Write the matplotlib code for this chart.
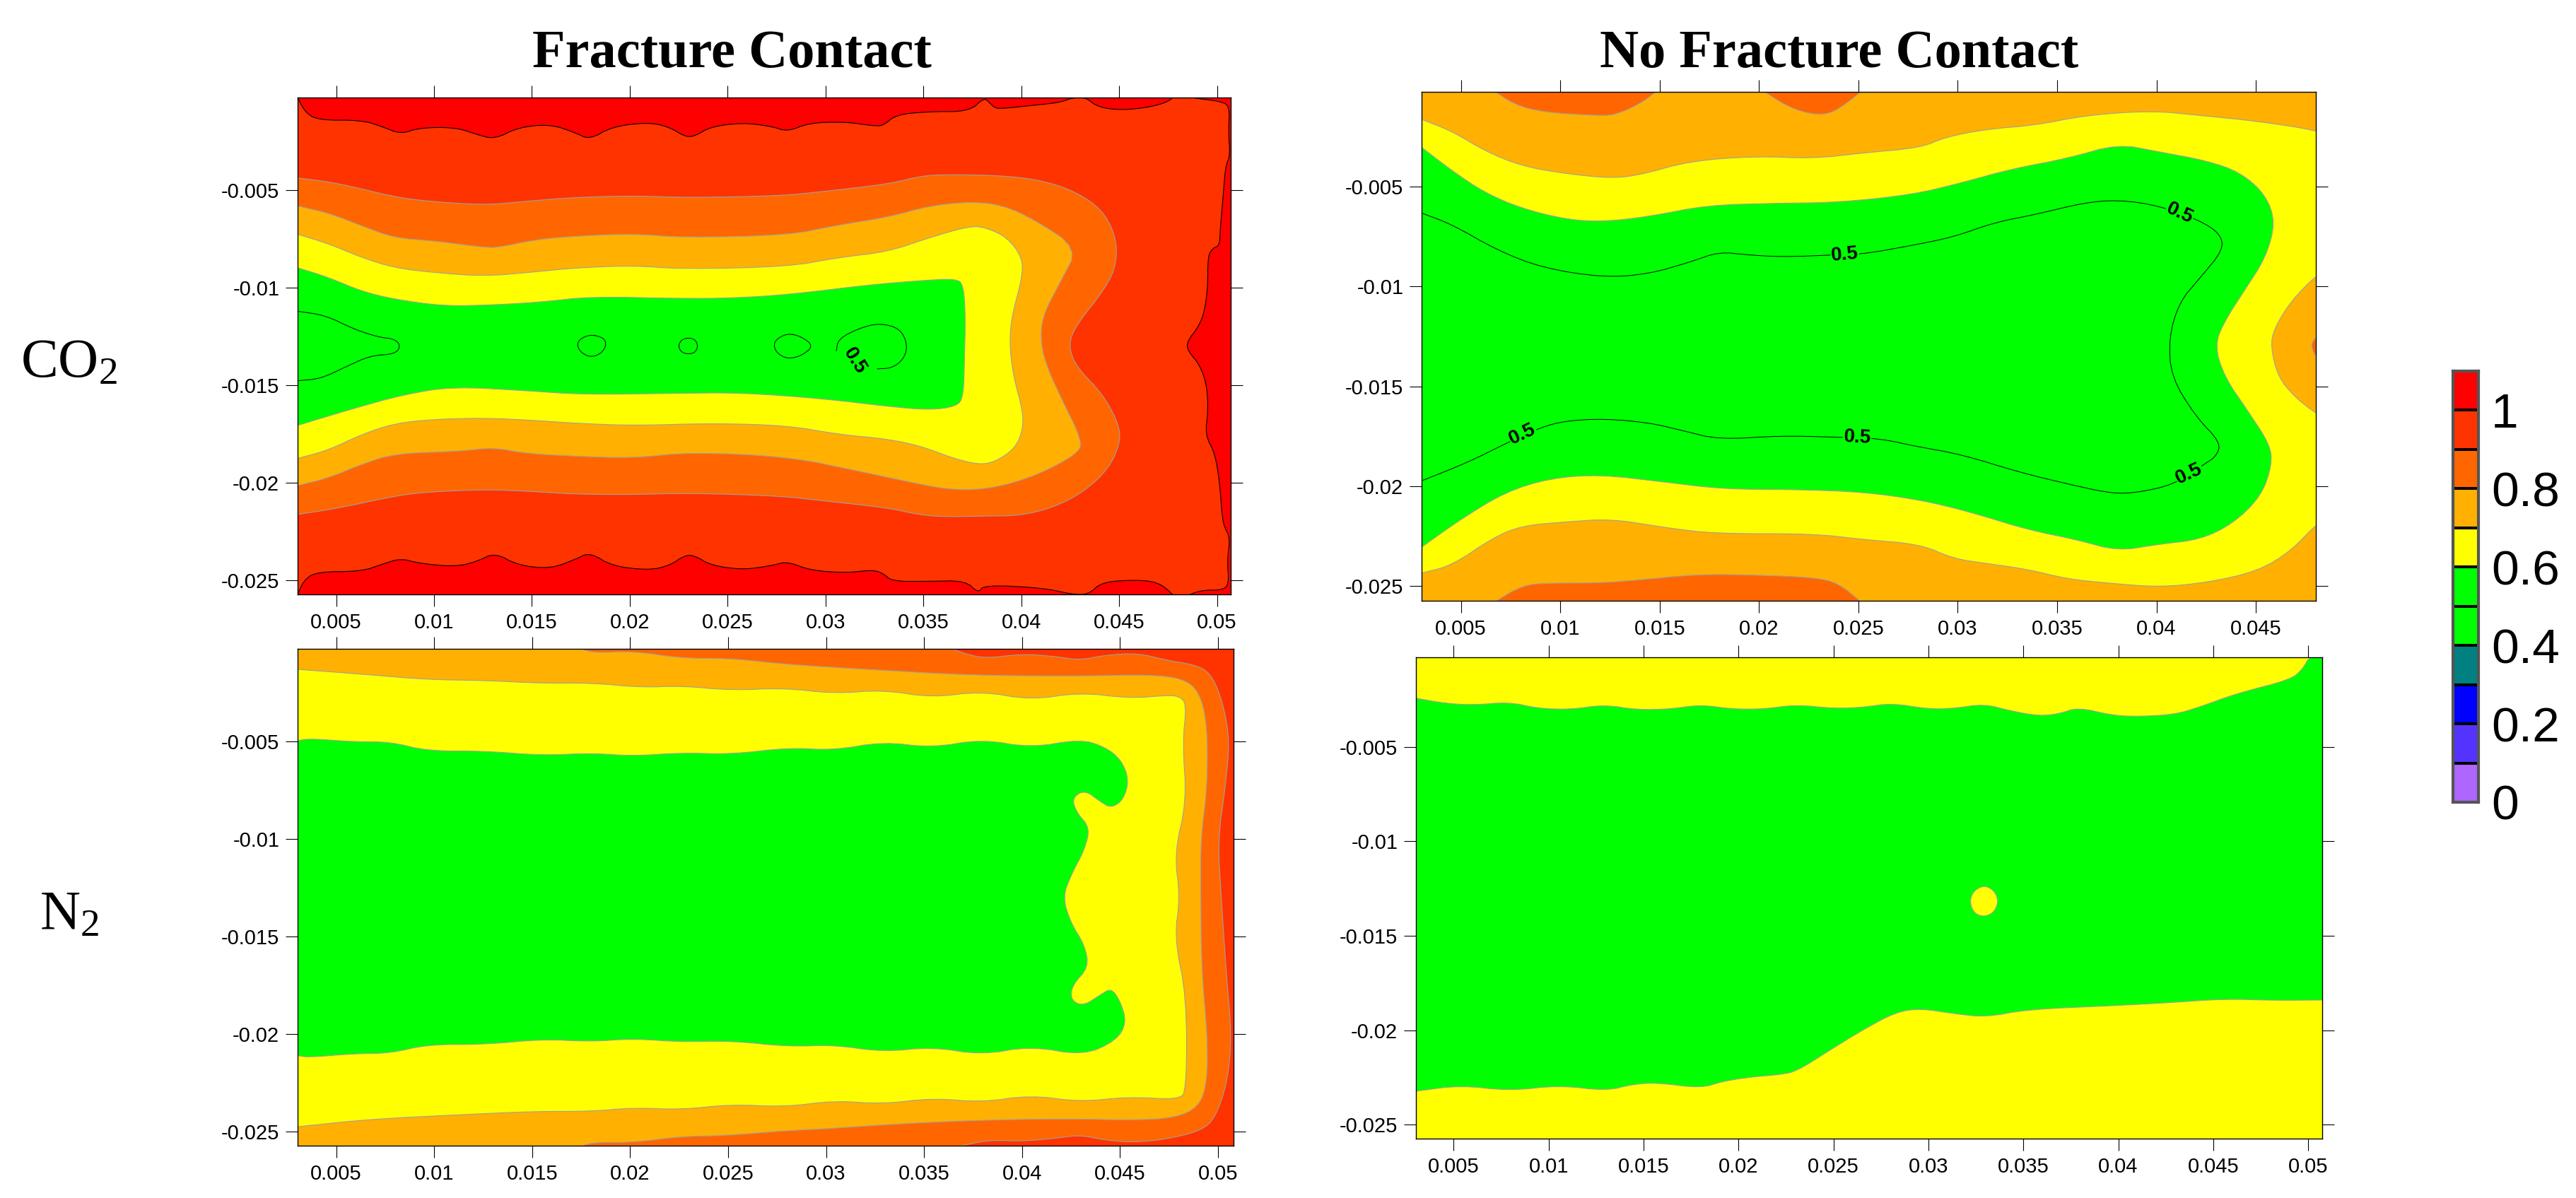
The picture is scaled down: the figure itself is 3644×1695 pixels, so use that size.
import matplotlib
matplotlib.use('Agg')
import matplotlib.pyplot as plt
from matplotlib.colors import ListedColormap
import numpy as np

plt.rcParams['font.family'] = ['Liberation Sans', 'DejaVu Sans']
plt.rcParams['mathtext.fontset'] = 'custom'
plt.rcParams['mathtext.rm'] = 'Liberation Serif'
plt.rcParams['mathtext.default'] = 'rm'

W, H = 3644, 1695

# legend
cb_levels = [0, .1, .2, .3, .4, .5, .6, .7, .8, .9, 1.0, 1.1]
cb_colors = ['#AE66FF', '#5533FF', '#0000FF', '#008080', '#00FF00', '#00FF00',
             '#FFFF00', '#FFB000', '#FF6600', '#FF3300', '#FF0000']
cb_ticks = [0, .2, .4, .6, .8, 1.0]
cb_ticklabels = ['0', '0.2', '0.4', '0.6', '0.8', '1']

x_ticks = [5, 10, 15, 20, 25, 30, 35, 40, 45, 50]
x_ticklabels = ['0.005', '0.01', '0.015', '0.02', '0.025', '0.03', '0.035', '0.04', '0.045', '0.05']
y_ticks = [-5, -10, -15, -20, -25]
y_ticklabels = ['-0.005', '-0.01', '-0.015', '-0.02', '-0.025']

# all contour outlines below are (x, y) in mm
# Fracture Contact, CO2
a_red_top = [(3.0, -0.1), (3.03, -0.23), (3.36, -0.93), (4.0, -1.41), (6.3, -1.41), (7.35, -1.74), (8.3, -2.13), (9.25, -1.8),
             (11.1, -1.78), (12.2, -2.15), (13.1, -2.39), (14.3, -1.78), (15.95, -1.62), (17.2, -2.05), (17.95, -2.41),
             (19.1, -1.74), (21.0, -1.52), (22.05, -1.78), (22.8, -2.25), (23.3, -2.25), (24.15, -1.74), (25.8, -1.54),
             (27.3, -1.74), (28.05, -2.0), (29.2, -1.54), (31.05, -1.5), (32.4, -1.7), (32.95, -1.7), (33.6, -1.13),
             (35.25, -0.97), (37.35, -0.97), (38.1, -0.25), (38.4, -0.54), (38.64, -0.78), (39.0, -0.82), (40.8, -0.63),
             (42.0, -0.5), (42.6, -0.26), (43.33, -0.26), (43.8, -0.67), (44.55, -0.85), (45.5, -0.87), (46.6, -0.73),
             (47.4, -0.5), (47.75, -0.26), (47.75, -0.1)]
a_red_bottom = [(3.0, -25.9), (3.03, -25.74), (3.36, -25.0), (4.0, -24.58), (6.3, -24.56), (7.35, -24.19), (8.3, -23.89),
                (9.25, -24.15), (11.1, -24.32), (12.2, -24.05), (13.1, -23.6), (14.3, -24.25), (15.95, -24.42), (17.2, -23.95),
                (17.95, -23.58), (19.1, -24.29), (21.0, -24.5), (22.05, -24.25), (22.8, -23.74), (23.3, -23.74), (24.15, -24.25),
                (25.8, -24.48), (27.3, -24.25), (28.05, -24.05), (29.2, -24.5), (31.05, -24.64), (32.4, -24.48), (32.95, -24.66),
                (33.4, -25.07), (35.25, -25.07), (37.15, -25.03), (37.8, -25.68), (38.1, -25.25), (41.15, -25.41), (42.6, -25.74),
                (43.45, -25.74), (44.1, -25.11), (45.8, -24.99), (47.0, -25.11), (47.75, -25.74), (47.75, -25.9)]
a_red_right = [(48.63, -0.1), (48.63, -0.26), (50.25, -0.45), (50.65, -0.73), (50.58, -2.02), (50.67, -3.22), (50.43, -3.78),
               (50.31, -5.35), (50.16, -7.02), (50.13, -7.85), (49.77, -7.98), (49.53, -8.4), (49.53, -9.98), (49.35, -11.27),
               (49.05, -12.01), (48.48, -12.75), (48.48, -13.21), (49.11, -13.95), (49.47, -14.97), (49.55, -16.27),
               (49.39, -17.56), (49.89, -18.49), (50.13, -19.97), (50.25, -21.63), (50.37, -22.28), (50.67, -22.84),
               (50.52, -23.95), (50.61, -25.24), (50.25, -25.52), (49.29, -25.52), (48.57, -25.74), (48.57, -25.9),
               (52, -25.9), (52, -0.1)]
a_09 = [(3.0, -4.37), (5.04, -4.63), (7.98, -5.35), (9.66, -5.57), (12.6, -5.77), (14.7, -5.57), (17.2, -5.37), (20.2, -5.29),
        (23.1, -5.39), (27.7, -5.29), (29.8, -5.08), (33.2, -4.69), (34.8, -4.29), (36.1, -4.19), (39.5, -4.27), (41.6, -4.63),
        (43.2, -5.31), (44.3, -6.22), (44.9, -7.65), (44.8, -9.07), (44.1, -10.3), (42.8, -11.93), (42.4, -12.94), (42.8, -14.06),
        (44.1, -15.39), (44.9, -16.81), (45.1, -17.83), (44.5, -19.26), (43.2, -20.48), (41.6, -21.3), (39.9, -21.7),
        (38.2, -21.72), (36.1, -21.76), (34.8, -21.66), (33.2, -21.3), (29.8, -20.93), (27.7, -20.69), (23.1, -20.54),
        (20.2, -20.62), (17.2, -20.6), (14.7, -20.44), (12.6, -20.36), (9.7, -20.48), (8.0, -20.69), (5.0, -21.34), (3.0, -21.64)]
a_08 = [(3.0, -5.81), (4.62, -6.18), (6.3, -6.83), (7.98, -7.46), (10.08, -7.61), (12.6, -7.95), (13.35, -7.93), (15.12, -7.55),
        (17.2, -7.36), (20.2, -7.24), (22.7, -7.44), (28.1, -7.32), (30.65, -6.79), (33.2, -6.39), (35.3, -5.81), (37.4, -5.59),
        (39.05, -5.77), (40.7, -6.53), (42.9, -7.99), (42.0, -9.69), (41.05, -11.52), (41.0, -12.94), (41.35, -14.17), (42.0, -15.59),
        (43.15, -17.94), (42.8, -18.55), (41.15, -19.46), (39.45, -20.07), (37.8, -20.38), (36.1, -20.34), (34.0, -19.91),
        (31.9, -19.46), (28.1, -18.67), (23.1, -18.44), (20.15, -18.75), (17.2, -18.65), (14.7, -18.51), (13.0, -18.2),
        (11.3, -18.4), (8.0, -18.51), (6.3, -19.06), (4.6, -19.77), (3.0, -20.16)]
a_07 = [(3.0, -7.26), (4.62, -7.75), (6.3, -8.46), (7.98, -8.99), (10.08, -9.24), (12.6, -9.42), (15.1, -9.2), (17.2, -8.99),
        (20.15, -8.87), (22.7, -9.05), (28.1, -8.93), (30.65, -8.46), (33.2, -8.16), (35.3, -7.44), (37.4, -6.83), (38.25, -6.94),
        (39.3, -7.44), (40.05, -8.46), (40.05, -9.48), (39.5, -11.52), (39.4, -12.94), (39.6, -14.57), (40.05, -16.2), (40.1, -17.22),
        (39.7, -18.24), (38.65, -18.95), (37.8, -19.08), (36.5, -18.75), (34.9, -18.14), (33.2, -17.77), (30.65, -17.53),
        (28.1, -17.08), (24.3, -16.96), (20.15, -17.08), (17.2, -16.96), (15.1, -16.81), (12.6, -16.69), (10.08, -16.75),
        (8.0, -16.96), (6.3, -17.53), (4.6, -18.34), (3.0, -18.77)]
a_06 = [(3.0, -8.97), (4.62, -9.48), (6.3, -10.19), (7.98, -10.6), (10.5, -10.95), (13.0, -10.89), (15.5, -10.74), (18.0, -10.46),
        (22.7, -10.56), (25.2, -10.54), (28.1, -10.36), (32.3, -9.85), (34.85, -9.64), (36.7, -9.54), (37.05, -9.89), (37.15, -11.52),
        (37.1, -13.56), (37.05, -15.59), (36.7, -16.1), (35.3, -16.28), (33.2, -16.1), (29.8, -15.69), (25.6, -15.39), (22.25, -15.43),
        (17.6, -15.49), (14.7, -15.29), (10.95, -15.08), (8.45, -15.49), (5.9, -16.2), (3.0, -17.08)]
a_05_left = [(3.0, -11.21), (4.45, -11.42), (5.9, -12.13), (7.15, -12.54), (8.0, -12.64), (8.3, -13.0), (8.0, -13.41),
             (6.75, -13.49), (5.5, -14.06), (4.2, -14.68), (3.0, -14.78)]
a_05_loop1 = [(17.95, -12.39), (18.7, -12.58), (18.8, -13.0), (18.5, -13.41), (17.95, -13.58), (17.4, -13.25), (17.3, -12.74)]
a_05_loop2 = [(22.7, -12.6), (23.3, -12.6), (23.5, -13.0), (23.3, -13.39), (22.7, -13.39), (22.45, -13.0)]
a_05_loop3 = [(28.05, -12.35), (28.75, -12.5), (29.4, -13.0), (28.75, -13.51), (28.05, -13.66), (27.5, -13.35), (27.35, -12.94),
              (27.5, -12.64)]
a_05_arc = [(30.55, -13.25), (30.65, -12.64), (31.7, -12.09), (32.75, -11.82), (33.8, -12.09), (34.2, -12.94), (34.0, -13.66),
            (33.4, -14.13), (32.65, -14.17)]
a_labels = [(31.5, -13.75, -58)]

# No Fracture Contact, CO2
b_08_top1 = [(6.53, -0.1), (7.65, -0.87), (9.1, -1.27), (12.0, -1.45), (12.8, -1.39), (14.05, -0.83), (15.0, -0.1)]
b_08_top2 = [(20.05, -0.1), (21.5, -1.03), (22.75, -1.39), (23.6, -1.33), (24.4, -0.83), (25.3, -0.1)]
b_08_bottom = [(6.53, -25.9), (8.1, -24.95), (9.5, -24.85), (12.0, -24.85), (14.05, -24.69), (16.95, -24.41), (19.85, -24.45),
               (22.75, -24.57), (24.0, -24.85), (25.25, -25.9)]
b_08_right = [(48.1, -12.45), (47.73, -12.94), (48.1, -13.64)]
b_07 = [(3.0, -1.62), (4.55, -2.22), (6.2, -3.21), (8.06, -3.97), (10.34, -4.36), (12.61, -4.58), (14.06, -4.4), (16.54, -3.71),
        (19.85, -3.47), (22.75, -3.59), (25.23, -3.31), (28.13, -3.05), (29.37, -2.52), (31.44, -2.12), (33.92, -1.92), (36.4, -1.43),
        (39.71, -1.19), (42.19, -1.43), (45.09, -1.72), (48.1, -2.18), (49, -2.6), (49, -9.0), (48.1, -9.37), (46.74, -10.76), (45.9, -12.15), (45.75, -13.04),
        (46.12, -14.53), (46.95, -15.53), (48.1, -16.42), (49, -16.8), (49, -21.4), (48.1, -21.84), (46.74, -23.27), (45.09, -24.26), (42.6, -24.82),
        (40.12, -25.06), (37.64, -24.86), (35.57, -24.66), (33.5, -24.16), (31.44, -23.87), (29.78, -23.63), (28.13, -22.91),
        (25.23, -22.67), (22.75, -22.38), (17.78, -22.38), (15.3, -22.08), (12.61, -21.64), (10.34, -21.78), (8.06, -21.98),
        (6.61, -22.58), (4.55, -23.97), (3.0, -24.36)]
b_06 = [(3.0, -3.01), (4.55, -4.2), (6.2, -5.3), (8.06, -6.09), (10.34, -6.65), (12.2, -6.75), (14.48, -6.49), (17.37, -5.93),
        (20.67, -5.83), (23.98, -5.79), (27.7, -5.4), (30.2, -4.8), (32.7, -4.11), (35.57, -3.57), (38.05, -2.86), (40.12, -3.25),
        (42.6, -3.71), (44.25, -4.3), (45.49, -5.4), (45.99, -6.79), (45.49, -8.57), (44.45, -10.16), (43.42, -11.75), (42.93, -12.94),
        (43.42, -14.53), (44.66, -16.32), (45.7, -17.91), (45.82, -18.9), (45.28, -20.49), (43.85, -21.88), (42.19, -22.68),
        (40.12, -22.91), (38.05, -23.25), (35.98, -22.68), (33.5, -22.18), (30.61, -21.29), (28.13, -20.69), (25.23, -20.29),
        (21.92, -20.17), (18.2, -20.15), (15.3, -19.8), (12.0, -19.42), (9.5, -19.6), (7.24, -20.29), (4.96, -21.68), (3.0, -23.07)]
b_05 = [(3.0, -6.31), (4.55, -6.89), (6.82, -8.18), (9.1, -9.07), (12.2, -9.55), (14.47, -9.37), (16.54, -8.77), (17.99, -8.26),
        (19.44, -8.42), (21.3, -8.52), (23.58, -8.42), (25.23, -8.38), (27.71, -7.94), (29.78, -7.52), (31.85, -6.79), (33.92, -6.39),
        (36.4, -5.79), (38.14, -5.66), (40.12, -5.95), (42.19, -6.69), (43.23, -7.38), (43.35, -8.18), (42.19, -9.57), (41.16, -10.76),
        (40.62, -12.55), (40.74, -14.53), (41.98, -16.52), (43.23, -17.81), (43.02, -18.5), (42.4, -18.9), (40.87, -19.93),
        (38.88, -20.35), (37.64, -20.35), (35.57, -19.9), (33.09, -19.3), (30.19, -18.41), (27.92, -18.01), (26.06, -17.61),
        (24.07, -17.55), (21.09, -17.47), (17.99, -17.67), (16.13, -17.21), (14.47, -16.82), (12.2, -16.62), (10.34, -16.72),
        (9.1, -17.02), (7.36, -17.81), (5.37, -18.8), (3.0, -19.74)]
b_labels = [(24.32, -8.42, 5), (41.16, -6.35, -25), (41.65, -19.4, 25), (24.94, -17.57, -3), (8.1, -17.4, 25)]

# Fracture Contact, N2
c_09 = [(3.0, -0.1), (35.0, -0.1), (36.05, -0.1), (37.1, -0.51), (38.15, -0.74), (40.03, -0.51), (41.7, -0.64), (42.96, -0.83), (44.2, -0.58),
        (45.9, -0.47), (47.36, -0.83), (49.04, -1.11), (49.75, -1.68), (50.3, -3.19), (50.6, -5.0), (50.38, -7.34), (50.0, -10.02),
        (50.17, -13.0), (50.42, -16.77), (50.7, -20.04), (50.5, -22.43), (49.87, -24.32), (49.12, -24.98), (47.36, -25.41),
        (45.68, -25.57), (44.2, -25.45), (42.96, -25.19), (41.7, -25.36), (40.03, -25.51), (38.35, -25.45), (37.1, -25.7),
        (36.26, -25.9), (35.0, -25.9), (3.0, -25.9)]
c_08 = [(2.0, -0.1), (2.9, -0.1), (16.0, -0.1), (17.2, -0.1), (18.04, -0.47), (20.13, -0.36), (22.64, -0.74), (25.15, -0.74), (28.09, -1.06), (32.7, -1.34),
        (36.89, -1.58), (40.24, -1.64), (43.59, -1.64), (46.52, -1.58), (48.2, -1.77), (49.04, -2.43), (49.46, -4.13), (49.46, -7.34),
        (49.12, -10.02), (49.12, -13.0), (49.17, -16.77), (49.46, -20.04), (49.46, -22.43), (49.04, -23.75), (47.78, -24.32),
        (45.68, -24.43), (42.33, -24.36), (38.15, -24.42), (33.96, -24.6), (29.76, -24.89), (28.09, -24.96), (24.74, -25.23),
        (22.64, -25.26), (20.13, -25.58), (18.04, -25.56), (17.2, -25.9), (16.0, -25.9), (2.9, -25.9), (2.0, -25.9)]
c_07 = [(3.0, -1.3), (6.3, -1.55), (9.66, -1.83), (12.6, -1.87), (15.5, -2.02), (18.04, -2.0), (20.55, -2.23), (22.64, -2.15),
        (25.15, -2.38), (27.9, -2.26), (30.4, -2.55), (32.9, -2.36), (35.4, -2.75), (37.9, -2.43), (40.45, -2.87), (42.96, -2.49),
        (45.5, -2.79), (47.36, -2.64), (48.03, -2.68), (48.4, -3.09), (48.2, -5.08), (48.4, -8.09), (47.78, -10.74), (48.07, -13.0),
        (47.78, -15.08), (48.4, -18.09), (48.4, -22.9), (47.99, -23.38), (45.47, -23.23), (42.96, -23.49), (40.45, -23.15),
        (37.94, -23.51), (35.43, -23.3), (32.9, -23.6), (30.4, -23.43), (27.9, -23.75), (25.15, -23.62), (22.64, -23.89),
        (20.13, -23.79), (18.04, -23.98), (15.1, -23.98), (11.33, -24.15), (6.72, -24.38), (3.0, -24.77)]
c_06 = [(3.0, -4.98), (3.58, -4.85), (5.88, -5.02), (7.77, -5.02), (9.65, -5.49), (12.58, -5.49), (15.5, -5.72), (18.03, -5.6),
        (20.13, -5.75), (22.64, -5.58), (25.15, -5.66), (28.09, -5.32), (30.4, -5.45), (32.9, -5.02), (35.4, -5.32), (37.94, -4.89),
        (40.45, -5.32), (42.96, -4.89), (44.2, -5.26), (45.05, -5.92), (45.47, -6.96), (45.18, -8.0), (44.55, -8.42), (44.0, -8.09),
        (43.2, -7.49), (42.55, -7.91), (42.8, -8.66), (43.47, -9.42), (43.2, -10.55), (42.5, -11.87), (42.08, -13.0), (42.5, -14.32),
        (43.2, -15.45), (43.41, -16.58), (42.55, -17.53), (42.5, -18.28), (43.13, -18.57), (44.0, -18.0), (44.55, -17.66),
        (45.0, -18.28), (45.35, -19.42), (44.8, -20.36), (43.13, -21.11), (40.45, -20.64), (37.94, -21.08), (35.43, -20.68),
        (32.9, -20.93), (30.4, -20.57), (28.09, -20.66), (25.15, -20.36), (22.64, -20.42), (20.13, -20.25), (18.03, -20.4),
        (15.5, -20.28), (12.58, -20.55), (9.65, -20.55), (7.77, -21.0), (5.88, -21.02), (3.58, -21.21), (3.0, -21.11)]

# No Fracture Contact, N2
d_06 = [(3.0, -2.41), (4.48, -2.68), (6.0, -2.78), (7.94, -2.62), (9.46, -2.96), (11.19, -3.01), (12.92, -2.76), (14.65, -3.03),
        (16.38, -2.99), (18.02, -2.76), (19.63, -2.99), (21.36, -2.99), (23.0, -2.76), (25.03, -2.96), (26.55, -2.9), (28.06, -2.68),
        (30.01, -2.99), (31.31, -2.96), (32.95, -2.72), (34.34, -3.09), (35.85, -3.36), (36.93, -3.23), (37.88, -2.9), (39.75, -3.34),
        (41.26, -3.38), (42.99, -3.27), (44.29, -2.88), (46.24, -2.16), (49.05, -1.44), (49.7, -0.89), (50.13, -0.1), (52, -0.1),
        (52, -18.4), (50.74, -18.4), (48.18, -18.42), (45.59, -18.34), (42.56, -18.55), (39.53, -18.71), (35.2, -18.9), (33.04, -19.31),
        (31.31, -19.12), (29.58, -18.85), (28.28, -19.04), (26.55, -19.98), (24.82, -21.05), (23.09, -22.16), (22.22, -22.35),
        (20.71, -22.47), (19.19, -22.7), (18.02, -23.07), (15.73, -22.78), (14.43, -22.86), (13.05, -23.21), (10.54, -22.92),
        (7.94, -23.21), (5.35, -22.92), (3.0, -23.23)]
d_spot = [(32.95, -12.32), (33.47, -12.61), (33.69, -13.16), (33.47, -13.74), (32.95, -14.0), (32.39, -13.8), (32.17, -13.16), (32.39, -12.61)]

RED, ORANGERED, ORANGE, AMBER, YELLOW, GREEN = cb_colors[10], cb_colors[9], cb_colors[8], cb_colors[7], cb_colors[6], cb_colors[5]
GREY = '#A0A0A0'


def axes_at(fig, left, top, right, bottom):
    return fig.add_axes([left / W, 1 - bottom / H, (right - left) / W, (bottom - top) / H])


def chaikin(pts, closed=False, rounds=2):
    # corner cutting so the drawn outline is not a visible polyline
    p = np.array(pts, dtype=float) / 1000
    for _ in range(rounds):
        q = np.vstack([p, p[:1]]) if closed else p
        a, b = q[:-1], q[1:]
        cut = np.empty((2 * len(a), 2))
        cut[0::2] = 0.75 * a + 0.25 * b
        cut[1::2] = 0.25 * a + 0.75 * b
        p = cut if closed else np.vstack([q[:1], cut, q[-1:]])
    return p


def band(ax, pts, color, edge=GREY, closed=False):
    p = chaikin(pts, closed)
    ax.fill(p[:, 0], p[:, 1], facecolor=color, edgecolor=edge, linewidth=0.8)


def line(ax, pts, closed=False):
    p = chaikin(pts, closed)
    if closed:
        p = np.vstack([p, p[:1]])
    ax.plot(p[:, 0], p[:, 1], color='k', linewidth=0.7)


def label05(ax, labels):
    for x, y, rot in labels:
        ax.text(x / 1000, y / 1000, '0.5', fontsize=20, fontweight='bold', rotation=rot, ha='center', va='center',
                rotation_mode='anchor', bbox=dict(facecolor=GREEN, edgecolor='none', pad=0.5))


def style(ax, xlim, bg, xtick_vals=x_ticks, xtick_labs=x_ticklabels):
    ax.set_facecolor(bg)
    ax.set_xlim(xlim[0] / 1000, xlim[1] / 1000)
    ax.set_ylim(-25.74 / 1000, -0.25 / 1000)
    ax.set_xticks(np.array(xtick_vals) / 1000, xtick_labs)
    ax.set_yticks(np.array(y_ticks) / 1000, y_ticklabels)
    ax.tick_params(top=True, right=True, length=12.5, width=0.8, labelsize=21, pad=6)
    for s in ax.spines.values():
        s.set_linewidth(1.0)


fig = plt.figure(figsize=(W / 100, H / 100), dpi=100)

ax_a = axes_at(fig, 421, 138, 1741, 841)
style(ax_a, (3.03, 50.7), ORANGERED)
band(ax_a, a_red_top, RED, 'k')
band(ax_a, a_red_bottom, RED, 'k')
band(ax_a, a_red_right, RED, 'k')
band(ax_a, a_09, ORANGE)
band(ax_a, a_08, AMBER)
band(ax_a, a_07, YELLOW)
band(ax_a, a_06, GREEN)
line(ax_a, a_05_left)
line(ax_a, a_05_loop1, closed=True)
line(ax_a, a_05_loop2, closed=True)
line(ax_a, a_05_loop3, closed=True)
line(ax_a, a_05_arc)
label05(ax_a, a_labels)

ax_b = axes_at(fig, 2011, 130, 3276, 850)
style(ax_b, (3.02, 48.02), AMBER, x_ticks[:-1], x_ticklabels[:-1])
band(ax_b, b_08_top1, ORANGE)
band(ax_b, b_08_top2, ORANGE)
band(ax_b, b_08_bottom, ORANGE)
band(ax_b, b_08_right, ORANGE)
band(ax_b, b_07, YELLOW)
band(ax_b, b_06, GREEN)
line(ax_b, b_05)
label05(ax_b, b_labels)

ax_c = axes_at(fig, 421, 918, 1745, 1621)
style(ax_c, (3.03, 50.8), ORANGERED)
band(ax_c, c_09, ORANGE)
band(ax_c, c_08, AMBER)
band(ax_c, c_07, YELLOW)
band(ax_c, c_06, GREEN)

ax_d = axes_at(fig, 2003, 930, 3285, 1611)
style(ax_d, (3.01, 50.74), YELLOW)
band(ax_d, d_06, GREEN)
band(ax_d, d_spot, YELLOW, closed=True)

ax_cb = axes_at(fig, 3470, 525, 3506, 1135)
ax_cb.pcolormesh([0, 1], cb_levels, np.arange(len(cb_colors)).reshape(-1, 1), cmap=ListedColormap(cb_colors),
                 edgecolors='k', linewidth=1.5)
ax_cb.set_xticks([])
ax_cb.yaxis.tick_right()
ax_cb.set_yticks(cb_ticks, cb_ticklabels)
ax_cb.tick_params(length=0, labelsize=50, pad=13)
for s in ax_cb.spines.values():
    s.set_linewidth(3)
    s.set_color('#555555')

serif = ['Liberation Serif', 'DejaVu Serif']
fig.text(1035 / W, 1 - 76 / H, 'Fracture Contact', family=serif, fontweight='bold', fontsize=55, ha='center', va='center')
fig.text(2602 / W, 1 - 76 / H, 'No Fracture Contact', family=serif, fontweight='bold', fontsize=55, ha='center', va='center')
fig.text(98 / W, 1 - 514 / H, r'CO$_2$', family=serif, fontsize=57, ha='center', va='center')
fig.text(98 / W, 1 - 1295 / H, r'N$_2$', family=serif, fontsize=57, ha='center', va='center')

fig.savefig('out.png', dpi=100)
